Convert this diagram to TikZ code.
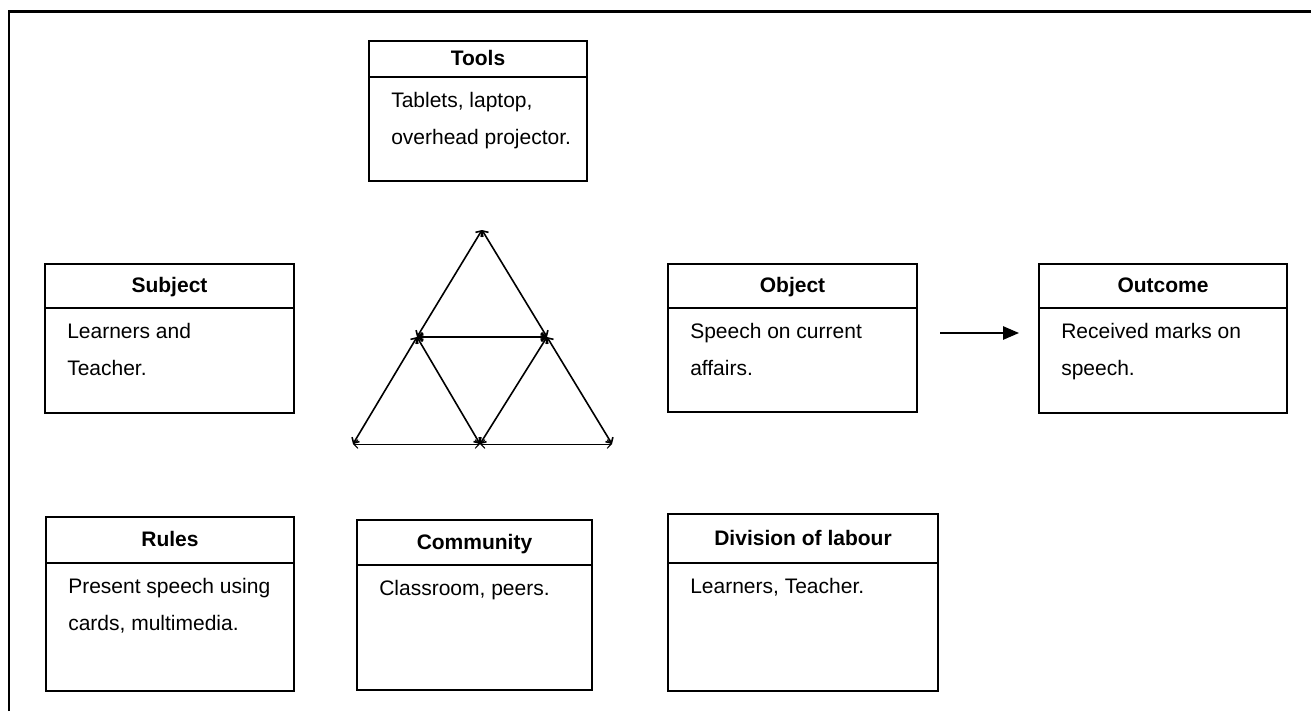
\documentclass[tikz,border=0pt]{standalone}
\usepackage{fontspec}
\setmainfont{Liberation Sans}
\usetikzlibrary{arrows.meta,fit}

\newcommand\labelsize{\fontsize{15.75pt}{27.75pt}\selectfont}

% boxframe outlines a labelled box, hdr is its bold title, bodytext its description
\tikzset{
  boxframe/.style={draw, line width=1.4pt, inner sep=0pt},
  boxline/.style={line width=1.4pt},
  hdr/.style={font=\labelsize\bfseries, anchor=base, inner sep=0pt},
  bodytext/.style={font=\labelsize, anchor=base west, inner sep=0pt},
  triedge/.style={line width=1.2pt,
    {Straight Barb[length=3.2pt,width=6.5pt]}-{Straight Barb[length=3.2pt,width=6.5pt]}},
  flow/.style={line width=1.3pt, -{Triangle[length=12pt,width=10pt]}}
}

% \actbox{name}{x1}{y1}{x2}{y2}{divider y}{title}{text}
\newcommand\actbox[8]{%
  \node[boxframe, fit={(#2,#3) (#4,#5)}] (#1) {};
  \draw[boxline] (#2,#6) -- (#4,#6);
  \node[hdr] (#1-title) at ({(#2+#4)/2}, {(#3+#6)/2+6.5}) {#7};
  \node[bodytext] (#1-text) at (#2+22, #6+30)
    {\begin{tabular}[t]{@{}l@{}}#8\end{tabular}};
}

\begin{document}
\begin{tikzpicture}[x=0.75pt, y=-0.75pt]
\useasboundingbox (0,0) rectangle (1311,711);
\fill[white] (0,0) rectangle (1311,711);

% outer frame
\draw[line width=1.6pt, line join=miter] (9,711) -- (9,11.5) -- (1311,11.5);

% activity system elements
\actbox{tools}{369}{41}{587}{181}{77}{Tools}{Tablets, laptop,\\overhead projector.}
\actbox{subject}{45}{264}{294}{413}{308}{Subject}{Learners and\\Teacher.}
\actbox{object}{668}{264}{917}{412}{308}{Object}{Speech on current\\affairs.}
\actbox{outcome}{1039}{264}{1287}{413}{308}{Outcome}{Received marks on\\speech.}
\actbox{rules}{46}{517}{294}{691}{563}{Rules}{Present speech using\\cards, multimedia.}
\actbox{community}{357}{520}{592}{690}{565}{Community}{Classroom, peers.}
\actbox{division}{668}{514}{938}{691}{563}{Division of labour}{Learners, Teacher.}

% object leads to outcome
\coordinate (flowstart) at (940,333);
\coordinate (flowend) at (1019,333);
\draw[flow] (flowstart) -- (flowend);

% activity triangle
\coordinate (apex) at (482,230);
\coordinate (midL) at (417,337);
\coordinate (midR) at (547,337);
\coordinate (botL) at (353,444);
\coordinate (botM) at (480,444);
\coordinate (botR) at (612,444);
\draw[triedge] (midL) -- (apex);
\draw[triedge] (apex) -- (midR);
\draw[triedge, line width=1.5pt] (midL) -- (midR);
\draw[triedge] (botL) -- (midL);
\draw[triedge] (midL) -- (botM);
\draw[triedge] (botM) -- (midR);
\draw[triedge] (midR) -- (botR);
\draw[triedge, line width=0.7pt] (botL) -- (botM);
\draw[triedge, line width=0.7pt] (botM) -- (botR);
\end{tikzpicture}
\end{document}
